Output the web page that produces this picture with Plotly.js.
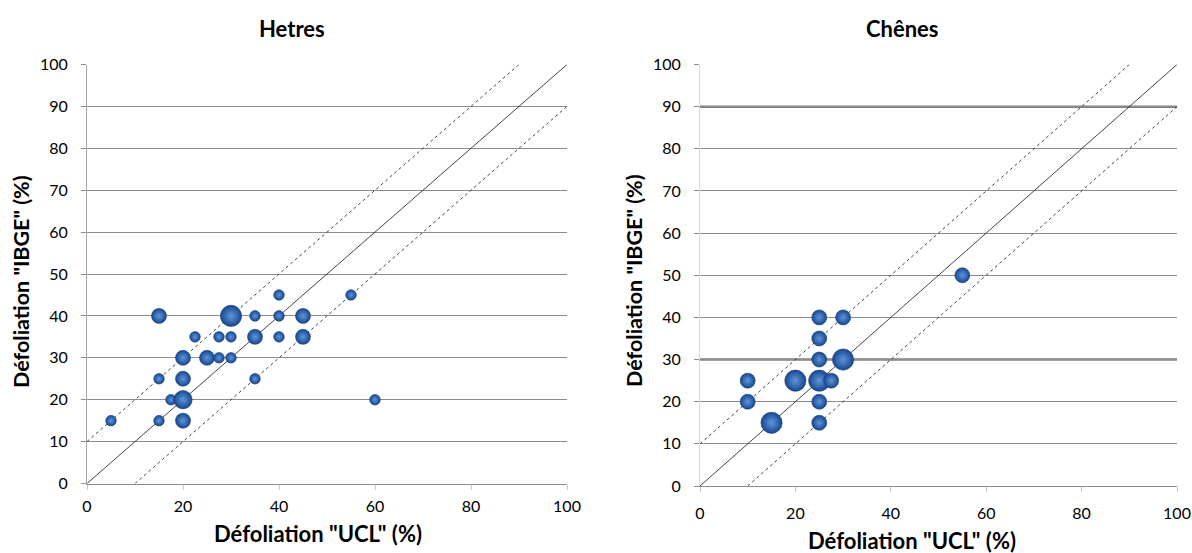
<!DOCTYPE html>
<html>
<head>
<meta charset="utf-8">
<script src="https://cdn.plot.ly/plotly-3.0.1.min.js"></script>
<style>
  html, body { margin: 0; padding: 0; background: #fff; }
  #chart { width: 1192px; height: 553px; }
</style>
</head>
<body>
<div id="chart"></div>
<script>
// Hêtres: défoliation estimée par UCL (x) et IBGE (y), taille = nombre d'arbres
const hetresUCL  = [40, 55, 15, 30, 35, 40, 45, 22.5, 27.5, 30, 35, 40, 45, 20, 25, 27.5, 30, 15, 20, 35, 17.5, 20, 60, 5, 15, 20];
const hetresIBGE = [45, 45, 40, 40, 40, 40, 40, 35, 35, 35, 35, 35, 35, 30, 30, 30, 30, 25, 25, 25, 20, 20, 20, 15, 15, 15];
const hetresN    = [1, 1, 2, 4, 1, 1, 2, 1, 1, 1, 2, 1, 2, 2, 2, 1, 1, 1, 2, 1, 1, 3, 1, 1, 1, 2];

// Chênes
const chenesUCL  = [55, 25, 30, 25, 25, 30, 10, 20, 25, 27.5, 10, 25, 15, 25];
const chenesIBGE = [50, 40, 40, 35, 30, 30, 25, 25, 25, 25, 20, 20, 15, 15];
const chenesN    = [1, 1, 1, 1, 1, 2, 1, 2, 2, 1, 1, 1, 2, 1];

// Droite 1:1 et bornes ±10 %
const diagX  = [0, 100];  const diagY  = [0, 100];
const upperX = [0, 90];   const upperY = [10, 100];
const lowerX = [10, 100]; const lowerY = [0, 90];

const tickVals = [0, 20, 40, 60, 80, 100];
const yTickVals = [0, 10, 20, 30, 40, 50, 60, 70, 80, 90, 100];

const FONT = 'Lato, "Open Sans", sans-serif';
const BIG = 15; // diamètre de la plus grosse bulle (px)

function bubbles(x, y, n, xa, ya) {
  const maxN = Math.max(...n);
  return {
    type: 'scatter', mode: 'markers', x: x, y: y, xaxis: xa, yaxis: ya,
    hoverinfo: 'x+y+text', text: n.map(v => 'n = ' + v),
    marker: {
      size: n, sizemode: 'area', sizeref: maxN / (BIG * BIG), sizemin: 2,
      opacity: 1,
      color: '#17488f',
      gradient: { type: 'radial', color: '#5f95dc' },
      line: { width: 0.6, color: '#163f78' }
    },
    showlegend: false
  };
}

function refLine(x, y, dash, xa, ya) {
  return {
    type: 'scatter', mode: 'lines', x: x, y: y, xaxis: xa, yaxis: ya,
    line: { color: '#303030', width: 0.9, dash: dash },
    hoverinfo: 'skip', showlegend: false
  };
}

const traces = [
  refLine(diagX, diagY, 'solid', 'x', 'y'),
  refLine(upperX, upperY, 'dot', 'x', 'y'),
  refLine(lowerX, lowerY, 'dot', 'x', 'y'),
  bubbles(hetresUCL, hetresIBGE, hetresN, 'x', 'y'),
  refLine(diagX, diagY, 'solid', 'x2', 'y2'),
  refLine(upperX, upperY, 'dot', 'x2', 'y2'),
  refLine(lowerX, lowerY, 'dot', 'x2', 'y2'),
  bubbles(chenesUCL, chenesIBGE, chenesN, 'x2', 'y2')
];

const H = 553, W = 1192;
const px = v => v / W;
const py = v => 1 - v / H;

function xAxis(domain, standoff) {
  return {
    domain: domain, range: [0, 100], tickvals: tickVals, showgrid: false,
    zeroline: false, showline: true, linecolor: '#8c8c8c', linewidth: 1,
    ticks: 'outside', ticklen: 5, tickcolor: '#c8c8c8', tickwidth: 1,
    ticklabelstandoff: standoff,
    tickfont: { family: FONT, size: 16, color: '#000' },
    fixedrange: true
  };
}

function yAxis(domain, anchor, lineColor) {
  return {
    domain: domain, anchor: anchor, range: [0, 100], tickvals: yTickVals,
    showgrid: true, gridcolor: '#8c8c8c', gridwidth: 1, zeroline: false,
    showline: true, linecolor: lineColor, linewidth: 1,
    ticks: 'outside', ticklen: 5, tickcolor: '#8c8c8c', tickwidth: 1,
    ticklabelstandoff: 10,
    tickfont: { family: FONT, size: 16, color: '#000' },
    fixedrange: true
  };
}

function label(text, x, y, size, angle) {
  return {
    text: text, x: px(x), y: py(y), xref: 'paper', yref: 'paper',
    xanchor: 'center', yanchor: 'middle', showarrow: false, textangle: angle || 0,
    font: { family: FONT, size: size, color: '#000', weight: 'bold' }
  };
}

const layout = {
  width: W, height: H,
  margin: { l: 0, r: 0, t: 0, b: 0 },
  paper_bgcolor: '#fff', plot_bgcolor: '#fff',
  showlegend: false,
  xaxis: Object.assign(xAxis([px(87), px(567)], 3), { anchor: 'y' }),
  yaxis: yAxis([py(483.5), py(64.5)], 'x', '#a6a6a6'),
  xaxis2: Object.assign(xAxis([px(700), px(1177)], 8), { anchor: 'y2' }),
  yaxis2: yAxis([py(486), py(64.5)], 'x2', '#d9d9d9'),
  shapes: [
    { type: 'line', xref: 'x2 domain', yref: 'y2', x0: 0, x1: 1, y0: 90, y1: 90,
      line: { color: '#7f7f7f', width: 2.5 }, layer: 'below' },
    { type: 'line', xref: 'x2 domain', yref: 'y2', x0: 0, x1: 1, y0: 30, y1: 30,
      line: { color: '#7f7f7f', width: 2.5 }, layer: 'below' }
  ],
  annotations: [
    label('Hetres', 292, 28, 22),
    label('Chênes', 902, 28, 22),
    label('Défoliation "UCL" (%)', 318, 533, 22),
    label('Défoliation "UCL" (%)', 912, 540, 22),
    label('Défoliation "IBGE" (%)', 21, 282, 21.5, -90),
    label('Défoliation "IBGE" (%)', 634, 281, 21.5, -90)
  ]
};

Plotly.newPlot('chart', traces, layout, { staticPlot: true, displayModeBar: false });
</script>
</body>
</html>
